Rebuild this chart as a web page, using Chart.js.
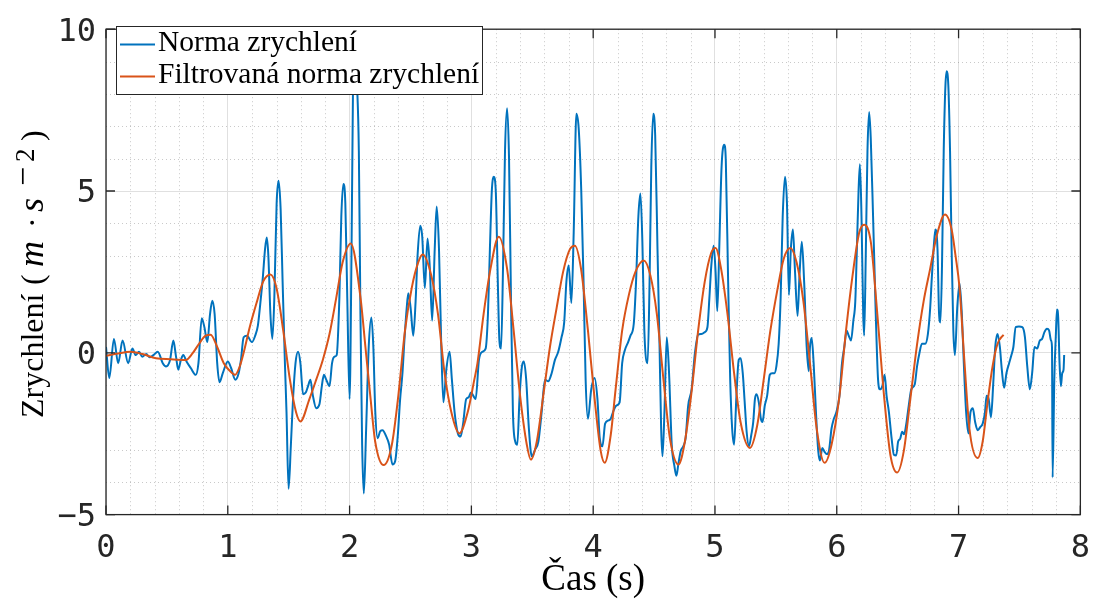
<!DOCTYPE html>
<html>
<head>
<meta charset="utf-8">
<script src="https://cdn.jsdelivr.net/npm/chart.js@4.4.0/dist/chart.umd.min.js"></script>
<style>
  html, body { margin: 0; padding: 0; background: #fff; }
  #wrap { width: 1105px; height: 608px; }
</style>
</head>
<body>
<div id="wrap"><canvas id="chart" width="1105" height="608"></canvas></div>
<script>
// norma zrychleni (raw), cas v s
const rawTime = [
  0.000, 0.027, 0.065, 0.100, 0.136, 0.182, 0.217, 0.244, 0.271, 0.298, 0.331, 0.358, 0.390, 0.425, 0.466, 0.493,
  0.526, 0.553, 0.575, 0.593, 0.615, 0.634, 0.661, 0.696, 0.737, 0.759, 0.786, 0.808, 0.832, 0.854, 0.873, 0.892,
  0.913, 0.932, 0.959, 1.000, 1.027, 1.062, 1.089, 1.108, 1.130, 1.157, 1.198, 1.225, 1.247, 1.266, 1.287, 1.306,
  1.320, 1.333, 1.350, 1.366, 1.382, 1.401, 1.417, 1.434, 1.450, 1.469, 1.482, 1.499, 1.518, 1.537, 1.556, 1.577,
  1.596, 1.618, 1.640, 1.659, 1.678, 1.699, 1.726, 1.753, 1.772, 1.789, 1.808, 1.835, 1.856, 1.875, 1.894, 1.916,
  1.932, 1.949, 1.965, 1.981, 2.000, 2.016, 2.030, 2.042, 2.055, 2.076, 2.089, 2.103, 2.117, 2.136, 2.157, 2.179,
  2.195, 2.211, 2.230, 2.252, 2.271, 2.298, 2.325, 2.352, 2.374, 2.396, 2.415, 2.434, 2.450, 2.469, 2.482, 2.501,
  2.523, 2.542, 2.558, 2.580, 2.596, 2.618, 2.640, 2.659, 2.678, 2.699, 2.715, 2.734, 2.753, 2.770, 2.794, 2.821,
  2.840, 2.862, 2.889, 2.911, 2.932, 2.957, 2.976, 2.997, 3.016, 3.035, 3.062, 3.089, 3.117, 3.136, 3.152, 3.168,
  3.184, 3.201, 3.217, 3.230, 3.244, 3.260, 3.276, 3.293, 3.309, 3.325, 3.341, 3.360, 3.377, 3.396, 3.415, 3.431,
  3.450, 3.472, 3.496, 3.523, 3.550, 3.577, 3.604, 3.631, 3.659, 3.686, 3.713, 3.740, 3.762, 3.780, 3.799, 3.821,
  3.840, 3.862, 3.881, 3.902, 3.921, 3.938, 3.957, 3.984, 4.011, 4.035, 4.054, 4.076, 4.098, 4.125, 4.144, 4.163,
  4.190, 4.217, 4.238, 4.260, 4.287, 4.306, 4.333, 4.352, 4.371, 4.388, 4.404, 4.420, 4.447, 4.463, 4.477, 4.493,
  4.509, 4.528, 4.545, 4.558, 4.569, 4.585, 4.604, 4.623, 4.645, 4.667, 4.683, 4.699, 4.718, 4.740, 4.759, 4.780,
  4.808, 4.835, 4.862, 4.889, 4.916, 4.938, 4.954, 4.970, 4.989, 5.005, 5.019, 5.035, 5.054, 5.076, 5.089, 5.108,
  5.125, 5.141, 5.157, 5.176, 5.195, 5.211, 5.228, 5.244, 5.260, 5.279, 5.298, 5.314, 5.328, 5.341, 5.360, 5.377,
  5.390, 5.409, 5.428, 5.450, 5.469, 5.488, 5.504, 5.523, 5.539, 5.556, 5.575, 5.591, 5.607, 5.623, 5.640, 5.656,
  5.678, 5.694, 5.713, 5.732, 5.753, 5.770, 5.780, 5.794, 5.810, 5.829, 5.848, 5.862, 5.881, 5.900, 5.916, 5.935,
  5.957, 5.976, 5.997, 6.022, 6.043, 6.062, 6.081, 6.098, 6.117, 6.136, 6.152, 6.165, 6.179, 6.190, 6.203, 6.217,
  6.225, 6.238, 6.252, 6.266, 6.279, 6.298, 6.320, 6.339, 6.355, 6.374, 6.393, 6.409, 6.428, 6.450, 6.469, 6.488,
  6.504, 6.520, 6.537, 6.553, 6.569, 6.591, 6.612, 6.640, 6.659, 6.678, 6.699, 6.726, 6.748, 6.767, 6.780, 6.797,
  6.810, 6.827, 6.840, 6.851, 6.864, 6.878, 6.892, 6.902, 6.916, 6.930, 6.943, 6.957, 6.970, 6.989, 7.008, 7.027,
  7.043, 7.062, 7.081, 7.098, 7.117, 7.136, 7.157, 7.179, 7.198, 7.217, 7.230, 7.247, 7.266, 7.285, 7.301, 7.320,
  7.339, 7.355, 7.374, 7.393, 7.415, 7.434, 7.450, 7.469, 7.496, 7.523, 7.545, 7.564, 7.585, 7.604, 7.623, 7.645,
  7.667, 7.686, 7.705, 7.726, 7.743, 7.759, 7.767, 7.772, 7.786, 7.799, 7.808, 7.818, 7.829, 7.840, 7.851, 7.862,
  7.867
];
const rawAccel = [
  0.18, -0.78, 0.43, -0.32, 0.38, -0.32, 0.13, -0.07, 0.03, -0.12, -0.04, -0.14, -0.07, 0.03, -0.32, -0.42,
  -0.22, 0.38, -0.12, -0.52, -0.22, -0.07, -0.27, -0.47, -0.68, -0.32, 1.07, 0.79, 0.33, 1.19, 1.61, 1.19,
  -0.32, -0.91, -0.63, -0.27, -0.47, -0.83, -0.63, -0.22, 0.48, 0.53, 0.33, 0.53, 0.84, 1.49, 2.30, 3.21,
  3.56, 3.00, 1.19, 0.43, 1.69, 4.62, 5.32, 4.42, 2.20, -0.32, -1.83, -4.20, -2.84, -1.33, -0.32, 0.03,
  -0.32, -1.28, -1.23, -1.03, -0.83, -1.33, -1.71, -1.58, -1.03, -0.68, -0.83, -1.03, -0.32, -0.12, -0.07, 1.69,
  4.21, 5.22, 4.62, 1.69, -1.43, 3.20, 9.00, 11.50, 9.00, 6.23, 1.19, -2.84, -4.35, -2.34, 0.18, 1.09,
  0.18, -1.83, -2.64, -2.42, -2.39, -2.56, -2.84, -3.45, -3.35, -2.54, -1.43, -0.63, 0.38, 1.39, 1.84, 1.39,
  0.53, 1.59, 3.00, 3.93, 3.61, 2.00, 3.53, 2.60, 0.99, 3.21, 4.52, 3.21, 0.18, -1.53, -0.52, 0.03,
  -0.83, -1.83, -2.49, -2.59, -2.19, -1.43, -1.38, -1.23, -1.33, -1.43, -0.22, 0.03, 0.13, 1.19, 3.21, 5.02,
  5.44, 4.92, 2.20, 0.38, 0.13, 2.70, 6.23, 7.56, 6.03, 1.69, -1.83, -2.74, -2.84, -1.33, -0.42, -0.27,
  -0.83, -2.34, -3.20, -2.99, -2.74, -1.83, -0.83, -0.88, -0.63, -0.22, 0.03, 0.48, 0.94, 2.20, 2.70, 1.54,
  3.71, 7.39, 6.94, 5.02, 2.20, -0.83, -2.04, -1.13, -0.78, -1.43, -2.64, -2.89, -2.19, -2.09, -2.04, -1.83,
  -1.63, -1.53, -0.32, 0.08, 0.33, 0.53, 0.89, 2.20, 4.21, 4.92, 3.41, 0.69, -0.32, 2.20, 5.73, 7.39,
  6.73, 3.21, 0.18, -2.34, -3.20, -1.83, 0.48, -0.63, -2.84, -3.50, -3.80, -3.45, -3.04, -2.89, -2.64, -1.63,
  -1.13, -0.02, 0.56, 0.58, 0.64, 0.79, 1.69, 2.70, 3.31, 2.50, 1.29, 3.21, 5.73, 6.43, 5.93, 2.20,
  -0.83, -2.34, -2.84, -1.33, -0.22, -0.17, -0.63, -1.53, -2.44, -2.89, -2.54, -2.14, -1.43, -1.28, -1.53, -2.04,
  -2.14, -1.63, -1.33, -0.68, -0.63, -0.63, -0.42, 0.28, 1.69, 4.21, 5.44, 4.62, 1.79, 3.21, 3.81, 2.60,
  1.14, 2.40, 3.43, 2.20, 0.18, -0.57, 0.18, 0.46, -0.32, -1.83, -3.04, -3.33, -2.94, -3.06, -3.13, -3.04,
  -2.34, -2.04, -1.83, -1.33, -0.32, 0.18, 0.69, 0.53, 0.38, 0.99, 1.59, 3.21, 5.02, 5.83, 4.21, 1.19,
  0.53, 3.00, 6.23, 7.44, 6.63, 4.21, 1.19, -0.83, -1.13, -1.03, -0.68, -1.33, -1.83, -2.64, -3.15, -3.17,
  -2.74, -2.66, -2.44, -2.52, -2.24, -1.63, -1.13, -0.98, -0.42, -0.02, 0.28, 0.28, 0.58, 1.39, 2.30, 3.31,
  3.81, 3.21, 1.19, 0.94, 2.70, 6.23, 8.25, 8.70, 8.25, 6.23, 3.21, 0.69, -0.07, 1.39, 2.15, 1.19,
  -0.32, -1.83, -2.49, -1.83, -1.71, -2.14, -2.39, -2.29, -2.19, -1.83, -1.33, -1.43, -1.99, -0.93, 0.18, 0.58,
  0.18, -0.52, -1.08, -0.63, -0.32, -0.07, 0.18, 0.79, 0.81, 0.79, 0.48, -0.42, -1.13, -0.63, 0.18, 0.13,
  0.38, 0.43, 0.64, 0.74, 0.69, 0.38, 0.18, -3.85, -0.83, 0.58, 1.34, 1.09, -0.32, -1.03, -0.63, -0.52,
  -0.07
];

// filtrovana norma zrychleni
const filtTime = [
  0.00, 0.10, 0.20, 0.30, 0.41, 0.53, 0.656, 0.71, 0.764, 0.818, 0.859, 0.913, 0.967, 1.02, 1.06, 1.10,
  1.13, 1.18, 1.24, 1.29, 1.35, 1.40, 1.455, 1.51, 1.56, 1.596, 1.67, 1.726, 1.78, 1.835, 1.89, 1.943,
  2.01, 2.09, 2.13, 2.17, 2.21, 2.28, 2.347, 2.40, 2.455, 2.51, 2.564, 2.60, 2.67, 2.726, 2.78, 2.835,
  2.90, 2.97, 3.024, 3.05, 3.10, 3.157, 3.225, 3.293, 3.347, 3.40, 3.455, 3.488, 3.537, 3.59, 3.645, 3.70,
  3.753, 3.81, 3.85, 3.90, 3.957, 4.015, 4.062, 4.095, 4.144, 4.184, 4.238, 4.293, 4.347, 4.415, 4.469, 4.523,
  4.577, 4.63, 4.70, 4.753, 4.81, 4.862, 4.916, 4.97, 5.005, 5.05, 5.103, 5.157, 5.21, 5.287, 5.347, 5.40,
  5.455, 5.51, 5.564, 5.618, 5.67, 5.726, 5.78, 5.835, 5.90, 5.957, 6.022, 6.076, 6.13, 6.184, 6.225, 6.28,
  6.333, 6.388, 6.44, 6.496, 6.55, 6.604, 6.66, 6.713, 6.767, 6.82, 6.889, 6.943, 6.975, 7.008, 7.049, 7.089,
  7.157, 7.198, 7.238, 7.279, 7.32, 7.369
];
const filtAccel = [
  -0.09, -0.02, 0.03, -0.04, -0.17, -0.20, -0.22, -0.02, 0.28, 0.53, 0.56, 0.18, -0.32, -0.57, -0.68, -0.40,
  0.00, 0.79, 1.59, 2.20, 2.42, 2.00, 0.69, -0.83, -1.83, -2.12, -1.43, -0.83, -0.22, 0.58, 1.69, 2.80,
  3.38, 1.69, 0.18, -1.33, -2.74, -3.47, -2.84, -1.33, 0.69, 2.00, 2.80, 3.04, 2.40, 1.19, -0.63, -1.83,
  -2.49, -1.83, -0.83, -0.32, 1.19, 2.60, 3.59, 2.60, 0.69, -1.33, -2.84, -3.30, -2.74, -1.33, 0.18, 1.39,
  2.50, 3.21, 3.31, 2.60, 0.69, -1.55, -3.04, -3.40, -2.54, -1.13, 0.69, 1.79, 2.50, 2.85, 2.40, 1.19,
  -0.83, -2.64, -3.45, -2.74, -1.13, 0.69, 2.20, 3.10, 3.24, 2.60, 1.19, -0.63, -2.14, -2.94, -2.24, -0.83,
  0.69, 1.90, 2.90, 3.24, 2.80, 1.59, -0.32, -2.34, -3.40, -2.84, -1.33, 0.69, 2.40, 3.71, 3.96, 3.41,
  1.19, -1.33, -3.15, -3.70, -3.04, -1.43, 0.28, 1.59, 2.60, 3.61, 4.27, 3.81, 3.00, 2.00, -0.32, -2.34,
  -3.25, -2.74, -1.53, -0.42, 0.28, 0.56
];

const seriesNames = ['Norma zrychlení', 'Filtrovaná norma zrychlení'];
const xTicks = [0, 1, 2, 3, 4, 5, 6, 7, 8];
const yTicks = [-5, 0, 5, 10];
const xMinorStep = 0.2;
const yMinorStep = 1;

const BLUE = '#0072BD';
const ORANGE = '#D95319';
const AXIS = '#262626';

function toPoints(xs, ys) {
  return xs.map((x, i) => ({ x: x, y: ys[i] }));
}

// minor grid + MATLAB style box with inward ticks
const matlabAxes = {
  id: 'matlabAxes',
  beforeDatasetsDraw(chart) {
    const { ctx, chartArea: a, scales: { x, y } } = chart;
    ctx.save();
    ctx.strokeStyle = 'rgba(38,38,38,0.25)';
    ctx.lineWidth = 1;
    ctx.setLineDash([1, 3]);
    for (let v = x.min; v <= x.max + 1e-9; v += xMinorStep) {
      const r = Math.round(v * 1000) / 1000;
      if (Number.isInteger(r)) continue;
      const px = Math.round(x.getPixelForValue(r)) + 0.5;
      ctx.beginPath(); ctx.moveTo(px, a.top); ctx.lineTo(px, a.bottom); ctx.stroke();
    }
    for (let v = y.min; v <= y.max + 1e-9; v += yMinorStep) {
      if (yTicks.includes(v)) continue;
      const py = Math.round(y.getPixelForValue(v)) + 0.5;
      ctx.beginPath(); ctx.moveTo(a.left, py); ctx.lineTo(a.right, py); ctx.stroke();
    }
    ctx.restore();
  },
  afterDatasetsDraw(chart) {
    const { ctx, chartArea: a, scales: { x, y } } = chart;
    const len = 9;
    ctx.save();
    ctx.strokeStyle = AXIS;
    ctx.lineWidth = 1.3;
    ctx.strokeRect(a.left, a.top, a.right - a.left, a.bottom - a.top);
    ctx.beginPath();
    xTicks.forEach(t => {
      const px = x.getPixelForValue(t);
      ctx.moveTo(px, a.bottom); ctx.lineTo(px, a.bottom - len);
      ctx.moveTo(px, a.top); ctx.lineTo(px, a.top + len);
    });
    yTicks.forEach(t => {
      const py = y.getPixelForValue(t);
      ctx.moveTo(a.left, py); ctx.lineTo(a.left + len, py);
      ctx.moveTo(a.right, py); ctx.lineTo(a.right - len, py);
    });
    ctx.stroke();
    ctx.restore();
  },
  afterDraw(chart) {
    const ctx = chart.ctx;
    // legenda
    ctx.save();
    ctx.fillStyle = '#fff';
    ctx.fillRect(116, 26, 367, 69);
    ctx.strokeStyle = AXIS;
    ctx.lineWidth = 1;
    ctx.strokeRect(116.5, 26.5, 366, 68);
    const rows = [44.5, 76.5];
    chart.data.datasets.forEach((ds, i) => {
      ctx.strokeStyle = ds.borderColor;
      ctx.lineWidth = 2;
      ctx.beginPath(); ctx.moveTo(120, rows[i]); ctx.lineTo(155, rows[i]); ctx.stroke();
      ctx.fillStyle = '#000';
      ctx.font = '29.5px "Liberation Serif"';
      ctx.textBaseline = 'alphabetic';
      ctx.fillText(ds.label, 158, rows[i] + 6.5);
    });
    ctx.restore();

    // popisek osy y: Zrychlení (m · s^-2)
    ctx.save();
    ctx.translate(43, 418);
    ctx.rotate(-Math.PI / 2);
    ctx.fillStyle = '#000';
    ctx.textBaseline = 'alphabetic';
    const parts = [
      ['Zrychlení', 0, 0, '32px "Liberation Serif"'],
      ['(', 133, 0, '32px "Liberation Serif"'],
      ['m', 151, 0, 'italic 36px "Liberation Serif"'],
      ['·', 190, 0, '32px "Liberation Serif"'],
      ['s', 206, 0, 'italic 36px "Liberation Serif"'],
      ['\u2212', 232, -9, '34px "Liberation Serif"'],
      ['2', 256, -9, '27px "Liberation Serif"'],
      [')', 277, 0, '32px "Liberation Serif"']
    ];
    parts.forEach(([txt, u, dy, font]) => {
      ctx.font = font;
      ctx.fillText(txt, u, dy);
    });
    ctx.restore();
  }
};

new Chart(document.getElementById('chart'), {
  type: 'line',
  data: {
    datasets: [{
      label: seriesNames[0],
      data: toPoints(rawTime, rawAccel),
      borderColor: BLUE,
      borderWidth: 2,
      pointRadius: 0,
      cubicInterpolationMode: 'monotone',
      order: 1
    }, {
      label: seriesNames[1],
      data: toPoints(filtTime, filtAccel),
      borderColor: ORANGE,
      borderWidth: 2,
      pointRadius: 0,
      cubicInterpolationMode: 'monotone',
      order: 0
    }]
  },
  options: {
    responsive: false,
    animation: false,
    devicePixelRatio: 1,
    layout: { padding: { left: 0, top: 18.6, right: 15, bottom: 0 } },
    plugins: {
      legend: { display: false },
      tooltip: { enabled: false }
    },
    scales: {
      x: {
        type: 'linear',
        min: 0,
        max: 8,
        afterFit: s => { s.height = 93.4; },
        ticks: {
          stepSize: 1,
          color: AXIS,
          padding: 15,
          font: { family: 'DejaVu Sans Mono', size: 32 }
        },
        grid: { color: '#e0e0e0', drawTicks: false },
        border: { display: false },
        title: {
          display: true,
          text: 'Čas (s)',
          color: '#000',
          font: { family: 'Liberation Serif', size: 37 },
          padding: { top: 0, bottom: 6 }
        }
      },
      y: {
        min: -5,
        max: 10,
        afterFit: s => { s.width = 106; },
        ticks: {
          stepSize: 5,
          color: AXIS,
          padding: 10,
          labelOffset: 3,
          font: { family: 'DejaVu Sans Mono', size: 32 },
          callback: v => v < 0 ? '\u2212' + Math.abs(v) : String(v)
        },
        grid: { color: '#e0e0e0', drawTicks: false },
        border: { display: false }
      }
    }
  },
  plugins: [matlabAxes]
});
</script>
</body>
</html>
